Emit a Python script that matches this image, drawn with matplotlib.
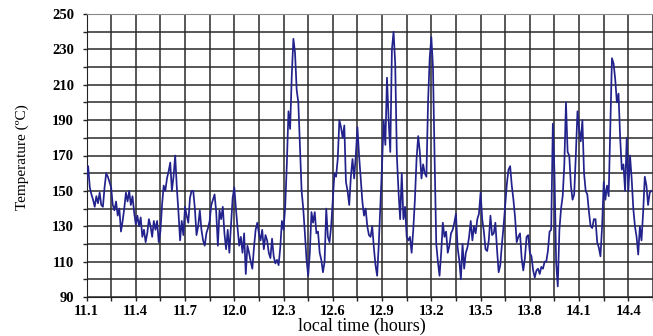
import matplotlib
matplotlib.use("agg")
from matplotlib import pyplot as plt
import numpy as np

# temperature record, one reading every 0.01 h starting at 11.10 h
t_start = 11.10
t_step = 0.01
temps = [
    156, 164, 152, 148, 145, 141, 147, 143, 149, 142,   # 11.1
    141, 152, 160, 158, 155, 152, 142, 139, 144, 136,   # 11.2
    140, 127, 133, 140, 149, 144, 150, 142, 147, 138,   # 11.3
    131, 136, 130, 135, 124, 128, 121, 126, 134, 130,   # 11.4
    124, 133, 128, 133, 121, 127, 142, 153, 150, 157,   # 11.5
    161, 166, 150, 158, 170, 152, 138, 122, 133, 125,   # 11.6
    141, 136, 132, 146, 150, 150, 140, 125, 130, 139,   # 11.7
    128, 122, 119, 126, 129, 133, 142, 145, 148, 138,   # 11.8
    119, 139, 134, 141, 126, 117, 128, 115, 131, 146,   # 11.9
    152, 140, 129, 119, 124, 115, 126, 103, 119, 115,   # 12.0
    110, 106, 118, 128, 132, 126, 122, 128, 117, 125,   # 12.1
    122, 115, 112, 123, 113, 109, 111, 108, 118, 133,   # 12.2
    128, 141, 165, 195, 185, 215, 236, 228, 207, 200,   # 12.3
    175, 150, 140, 126, 111, 102, 115, 138, 132, 138,   # 12.4
    126, 127, 115, 111, 104, 110, 140, 124, 121, 130,   # 12.5
    145, 160, 158, 168, 190, 186, 180, 187, 155, 150,   # 12.6
    142, 158, 168, 157, 170, 186, 170, 157, 144, 136,   # 12.7
    140, 130, 125, 124, 130, 118, 108, 102, 120, 142,   # 12.8
    165, 190, 176, 214, 190, 172, 230, 240, 222, 170,   # 12.9
    150, 134, 160, 134, 141, 124, 122, 124, 115, 128,   # 13.0
    145, 168, 181, 172, 157, 165, 160, 158, 200, 225,   # 13.1
    237, 220, 168, 120, 110, 102, 115, 132, 124, 127,   # 13.2
    115, 119, 126, 128, 132, 137, 118, 111, 100, 120,   # 13.3
    106, 115, 118, 124, 133, 122, 130, 126, 134, 137,   # 13.4
    149, 134, 127, 117, 116, 122, 136, 125, 126, 132,   # 13.5
    117, 104, 108, 120, 130, 142, 154, 162, 164, 153,   # 13.6
    145, 135, 121, 124, 126, 112, 105, 112, 124, 125,   # 13.7
    115, 113, 105, 101, 105, 106, 103, 107, 106, 110,   # 13.8
    110, 116, 127, 128, 188, 160, 110, 96, 128, 140,    # 13.9
    147, 165, 200, 172, 170, 153, 145, 148, 170, 195,   # 14.0
    185, 178, 190, 160, 150, 148, 138, 130, 129, 134,   # 14.1
    134, 121, 118, 113, 130, 155, 145, 153, 147, 185,   # 14.2
    225, 222, 213, 200, 205, 180, 162, 165, 150, 180,   # 14.3
    150, 170, 157, 140, 130, 124, 114, 130, 122, 138,   # 14.4
    158, 153, 142, 149, 150,                            # 14.5
]
times = t_start + t_step * np.arange(len(temps))

xticks = [11.1, 11.4, 11.7, 12.0, 12.3, 12.6, 12.9, 13.2, 13.5, 13.8, 14.1, 14.4]
yticks = [90, 110, 130, 150, 170, 190, 210, 230, 250]

plt.rcParams['font.family'] = ['Liberation Serif', 'DejaVu Serif']

fig = plt.figure(figsize=(6.53, 3.36), dpi=100)
ax = fig.add_axes([86.5 / 653, 1 - 297 / 336, 1 - 86.5 / 653, (297 - 14) / 336])

ax.plot(times, temps, color='#22228c', lw=1.25, zorder=3)

ax.set_xlim(11.1, 14.546)
ax.set_ylim(90, 250)

# grid: every 0.15 h and every 10 degrees
ax.set_xticks(np.arange(11.1, 14.55, 0.15), minor=True)
ax.set_yticks(np.arange(90, 251, 10), minor=True)
ax.set_xticks(xticks)
ax.set_xticklabels(["%.1f" % v for v in xticks], fontweight='bold', fontsize=10.5)
ax.set_yticks(yticks)
ax.set_yticklabels([str(v) for v in yticks], fontweight='bold', fontsize=10.5)
ax.grid(True, which='both', color='#2a2a2a', lw=1.1, zorder=1)
ax.tick_params(which='both', direction='out', length=3, width=1, color='#222222')
ax.tick_params(axis='x', pad=2.5)
ax.tick_params(axis='y', pad=6)

ax.spines['right'].set_visible(False)
ax.spines['top'].set_color('#888888')
ax.spines['left'].set_color('#222222')
ax.spines['bottom'].set_color('#222222')

ax.set_ylabel("Temperature (ºC)", fontsize=11)
ax.yaxis.set_label_coords(-0.1015, 0.495)
ax.set_xlabel("local time (hours)", fontsize=13)
ax.xaxis.set_label_coords(0.486, -0.074)

plt.savefig("out.png", dpi=100)
